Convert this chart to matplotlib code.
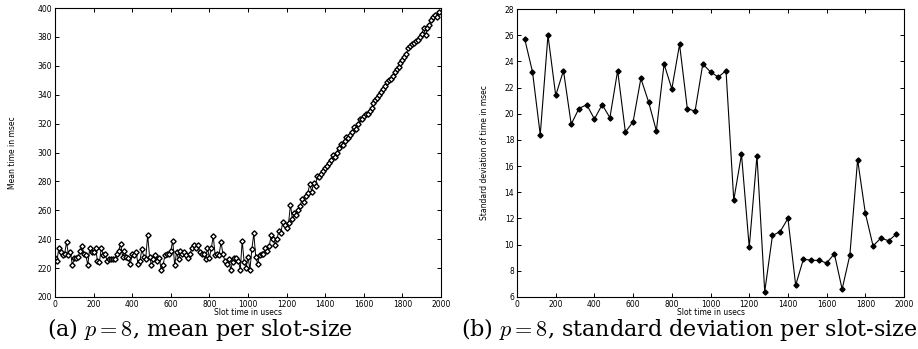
import numpy as np
import matplotlib
matplotlib.use('Agg')
import matplotlib.pyplot as plt

# mean time per slot size (p = 8), slots 0..1990 step 10
slot_mean = list(range(0, 2000, 10))
mean_time = [
    227, 225, 234, 231, 229, 230, 238, 229, 231, 222,
    227, 227, 228, 232, 235, 230, 229, 222, 234, 231,
    231, 234, 225, 224, 234, 229, 230, 225, 226, 226,
    226, 226, 230, 232, 237, 228, 232, 228, 227, 223,
    230, 229, 231, 223, 225, 233, 228, 226, 243, 228,
    222, 226, 229, 225, 227, 219, 222, 229, 230, 230,
    232, 239, 222, 231, 226, 232, 230, 231, 229, 227,
    230, 234, 236, 234, 236, 231, 230, 230, 226, 234,
    227, 234, 242, 229, 230, 229, 238, 230, 225, 223,
    226, 219, 224, 227, 227, 225, 219, 239, 224, 220,
    228, 219, 233, 244, 228, 223, 229, 230, 230, 234,
    232, 235, 243, 240, 236, 240, 246, 244, 252, 250,
    248, 251, 264, 254, 258, 257, 260, 263, 268, 266,
    270, 272, 278, 273, 279, 277, 284, 283, 285, 287,
    289, 291, 293, 295, 298, 297, 300, 303, 306, 305,
    308, 311, 310, 312, 314, 318, 316, 320, 323, 323,
    325, 327, 327, 329, 331, 334, 336, 338, 340, 342,
    344, 346, 349, 350, 351, 353, 356, 358, 359, 362,
    364, 366, 368, 372, 374, 375, 376, 377, 378, 380,
    382, 386, 381, 386, 388, 392, 394, 395, 394, 397,
]

# standard deviation per slot size, slots 40..1960 step 40
slot_std = list(range(40, 2000, 40))
std_time = [
    25.7, 23.2, 18.4, 26.0, 21.4, 23.3, 19.2, 20.4, 20.7, 19.6,
    20.7, 19.7, 23.3, 18.6, 19.4, 22.7, 20.9, 18.7, 23.8, 21.9,
    25.3, 20.4, 20.2, 23.8, 23.2, 22.8, 23.3, 13.4, 16.9, 9.8,
    16.8, 6.4, 10.7, 11.0, 12.0, 6.9, 8.9, 8.8, 8.8, 8.6,
    9.3, 6.6, 9.2, 16.5, 12.4, 9.9, 10.5, 10.3, 10.8,
]

plt.rcParams['mathtext.fontset'] = 'cm'

fig = plt.figure(figsize=(9.18, 3.49), dpi=100)
ax1 = fig.add_axes([0.0599, 0.149, 0.4205, 0.828])
ax2 = fig.add_axes([0.5632, 0.149, 0.4216, 0.825])

ax1.plot(slot_mean, mean_time, color='black', lw=0.7, marker='D', ms=2.7,
         mfc='white', mec='black', mew=1.0)
ax1.set_xlim(0, 2000)
ax1.set_ylim(200, 400)
ax1.set_xticks(range(0, 2001, 200))
ax1.set_yticks(range(200, 401, 20))
ax1.set_xlabel('Slot time in usecs', fontsize=5.5, labelpad=-0.8)
ax1.set_ylabel('Mean time in msec', fontsize=5.5, labelpad=15)

ax2.plot(slot_std, std_time, color='black', lw=0.8, marker='D', ms=2.6,
         mfc='black', mec='black')
ax2.set_xlim(0, 2000)
ax2.set_ylim(6, 28)
ax2.set_xticks(range(0, 2001, 200))
ax2.set_yticks(range(6, 29, 2))
ax2.set_xlabel('Slot time in usecs', fontsize=5.5, labelpad=-0.8)
ax2.set_ylabel('Standard deviation of time in msec', fontsize=5.5, labelpad=11)

for ax in (ax1, ax2):
    ax.tick_params(direction='in', top=True, right=True, length=3, width=0.7,
                   labelsize=5.5, pad=2)
    for s in ax.spines.values():
        s.set_linewidth(0.8)

fig.text(0.218, 0.055, r'(a) $p = 8$, mean per slot-size', ha='center', va='center',
         fontsize=16, family='serif', math_fontfamily='cm')
fig.text(0.751, 0.055, r'(b) $p = 8$, standard deviation per slot-size', ha='center',
         va='center', fontsize=16, family='serif', math_fontfamily='cm')

fig.savefig('out.png', dpi=100)
